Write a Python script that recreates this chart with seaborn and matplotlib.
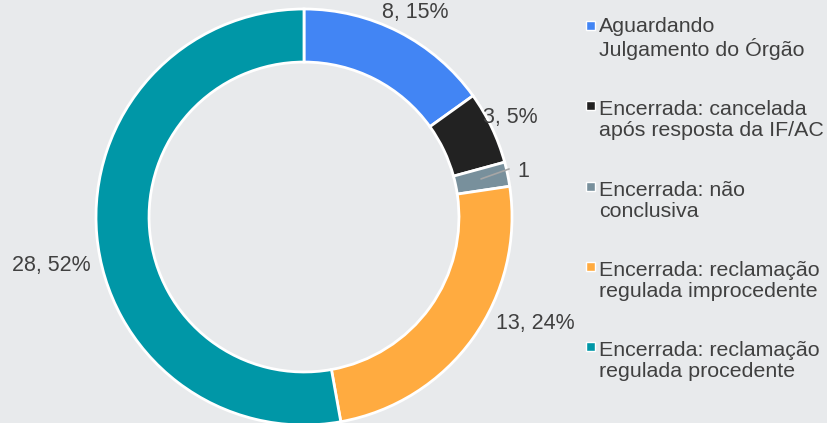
import numpy as np
import seaborn as sns
import matplotlib.pyplot as plt
from matplotlib.patches import Rectangle

# data
categories = ["Aguardando\nJulgamento do Órgão",
              "Encerrada: cancelada\napós resposta da IF/AC",
              "Encerrada: não\nconclusiva",
              "Encerrada: reclamação\nregulada improcedente",
              "Encerrada: reclamação\nregulada procedente"]
counts = [8, 3, 1, 13, 28]
value_labels = ["8, 15%", "3, 5%", "1", "13, 24%", "28, 52%"]

# label placement (data units, radius = 1)
label_pos = [(0.534, 0.981), (0.99, 0.476), (1.024, 0.221), (1.11, -0.51), (-1.216, -0.231)]
label_ha = ["center", "center", "left", "center", "center"]

sns.set_theme(style="white")
plt.rcParams['font.family'] = ['Liberation Sans', 'DejaVu Sans']

palette = sns.color_palette(["#4285f4", "#222222", "#78909c", "#ffab40", "#0097a7"])
bg = "#e8eaec"
txt = "#404040"

fig = plt.figure(figsize=(8.27, 4.23), dpi=100, facecolor=bg)
ax = fig.add_axes([96 / 827, (423 - 217 - 208) / 423, 416 / 827, 416 / 423])
ax.set_facecolor(bg)

wedges, _ = ax.pie(counts, colors=palette, startangle=90, counterclock=False,
                   radius=1, wedgeprops=dict(width=0.255, edgecolor="white", linewidth=2))
ax.set_xlim(-1, 1)
ax.set_ylim(-1, 1)
ax.set_axis_off()

for (x, y), s, ha in zip(label_pos, value_labels, label_ha):
    ax.text(x, y, s, ha=ha, va="center", fontsize=15.5, color=txt, clip_on=False)

# leader line for the small slice
ax.plot([0.851, 0.986], [0.183, 0.231], color="#a6a6a6", lw=1.2, clip_on=False)

# legend drawn by hand: square marker + two-line label
for i, (lab, c) in enumerate(zip(categories, palette)):
    base = 32 + 80.3 * i
    fig.patches.append(Rectangle(((586) / 827, (423 - base + 2) / 423), 9 / 827, 9 / 423,
                                 transform=fig.transFigure, facecolor=c,
                                 edgecolor="white", linewidth=1))
    # va='baseline' on multi-line text anchors the last line
    fig.text(599 / 827, (423 - base - 24) / 423, lab, ha="left", va="baseline",
             fontsize=15.4, color=txt, linespacing=1.13)

fig.savefig("out.png", dpi=100, facecolor=bg)
